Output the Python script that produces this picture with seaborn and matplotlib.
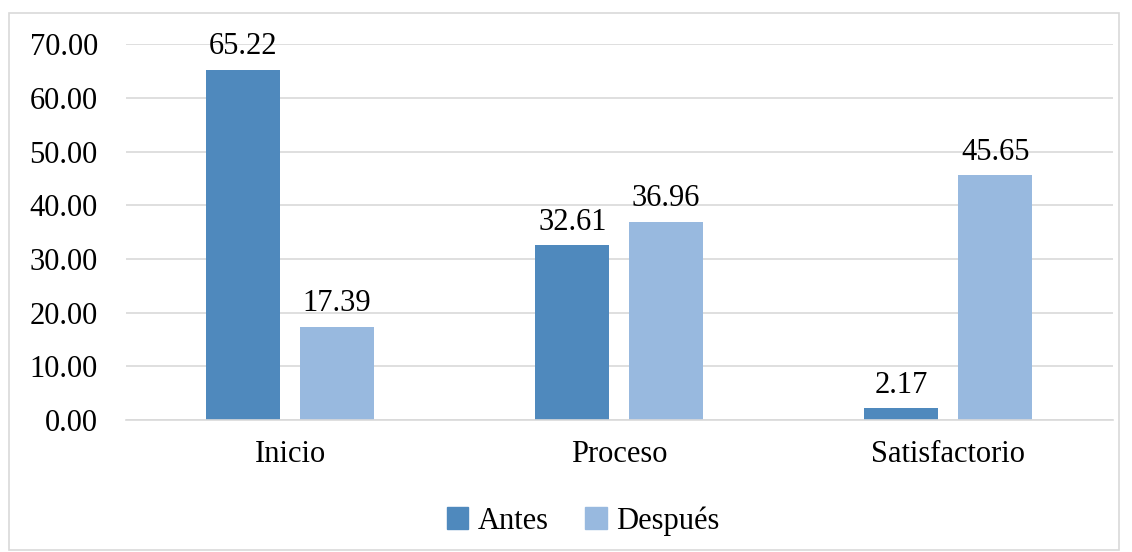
import matplotlib.pyplot as plt
import matplotlib.patches as mpatches
import pandas as pd
import seaborn as sns

categories = ["Inicio", "Proceso", "Satisfactorio"]
antes = [65.22, 32.61, 2.17]
despues = [17.39, 36.96, 45.65]
series = ["Antes", "Después"]
colors = {"Antes": "#4F89BD", "Después": "#98B9DF"}

df = pd.DataFrame({
    "Nivel": categories * 2,
    "Valor": antes + despues,
    "Momento": ["Antes"] * 3 + ["Después"] * 3,
})

sns.set_style("white")
plt.rcParams['font.family'] = ['Liberation Serif', 'DejaVu Serif']
plt.rcParams['text.color'] = 'black'
plt.rcParams['xtick.color'] = 'black'
plt.rcParams['ytick.color'] = 'black'

fig = plt.figure(figsize=(11.32, 5.52), dpi=100)
ax = fig.add_axes([0.111, 0.239, 0.872, 0.681])

sns.barplot(data=df, x="Nivel", y="Valor", hue="Momento", order=categories,
            hue_order=series, palette=colors, width=0.57, gap=0.21,
            saturation=1.0, linewidth=0, ax=ax, legend=False)

for cont in ax.containers:
    ax.bar_label(cont, labels=[f"{v:.2f}" for v in cont.datavalues],
                 padding=6, fontsize=22, color='black', clip_on=False)

ax.set_ylim(0, 70)
ax.set_yticks(range(0, 71, 10))
ax.set_yticklabels([f"{v:.2f}" for v in range(0, 71, 10)])
ax.yaxis.grid(True, color='#D9D9D9', linewidth=1.2)
ax.set_axisbelow(True)
for s in ['top', 'right', 'left']:
    ax.spines[s].set_visible(False)
ax.spines['bottom'].set_color('#D9D9D9')
ax.spines['bottom'].set_linewidth(1.2)
ax.tick_params(axis='y', labelsize=22, pad=20, length=0, labelcolor='black')
ax.tick_params(axis='x', labelsize=22, pad=14, length=0, labelcolor='black')
ax.set_xlabel('')
ax.set_ylabel('')

handles = [mpatches.Patch(color=colors[s], label=s) for s in series]
fig.legend(handles=handles, loc='center', bbox_to_anchor=(0.515, 0.056), ncol=2,
           frameon=False, fontsize=22, handlelength=0.7, handleheight=0.7,
           handletextpad=0.3, columnspacing=1.2, labelcolor='black')

fig.patches.append(mpatches.Rectangle((9 / 1132, 0.004), 1110 / 1132, 1 - 13 / 552 - 0.004,
                                      transform=fig.transFigure, fill=False,
                                      edgecolor='#D9D9D9', linewidth=1.2))

fig.savefig("out.png", dpi=100)
